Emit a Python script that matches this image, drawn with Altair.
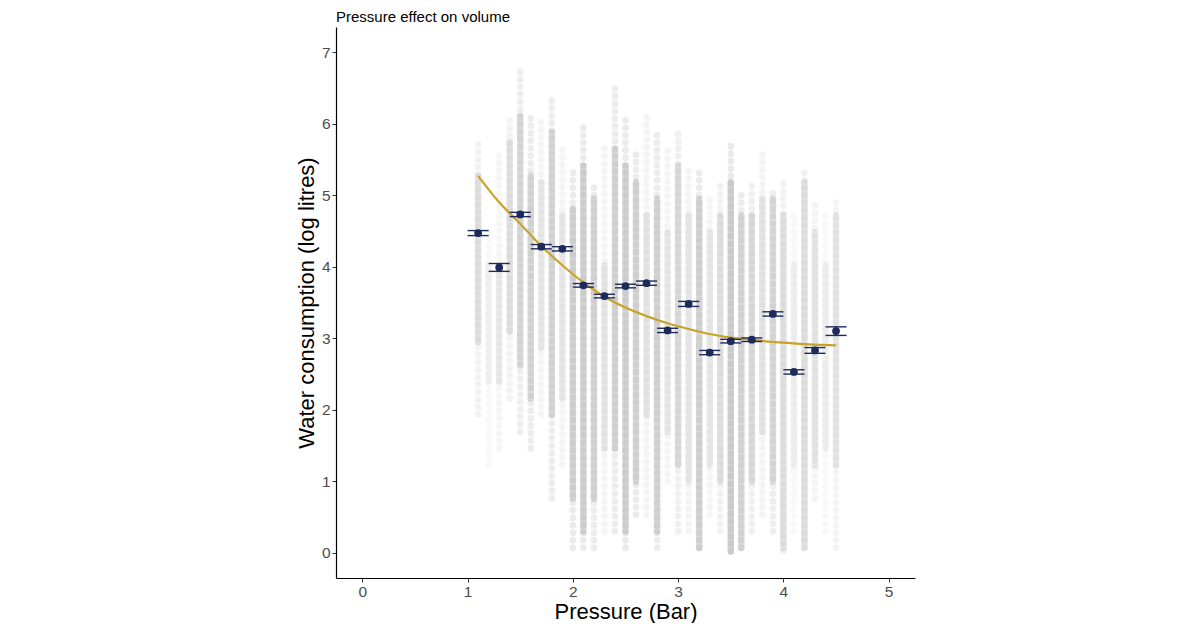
import altair as alt
import pandas as pd

# background cloud: one column of observations per pressure setting
col_x = [1.1, 1.2, 1.3, 1.4, 1.5, 1.6, 1.7, 1.8, 1.9, 2.0,
         2.1, 2.2, 2.3, 2.4, 2.5, 2.6, 2.7, 2.8, 2.9, 3.0,
         3.1, 3.2, 3.3, 3.4, 3.5, 3.6, 3.7, 3.8, 3.9, 4.0,
         4.1, 4.2, 4.3, 4.4, 4.5]
col_top = [5.78, 4.48, 5.65, 6.11, 6.76, 6.11, 6.11, 6.34, 5.65, 5.41,
           5.97, 5.18, 5.65, 6.58, 6.11, 5.65, 6.11, 5.88, 5.65, 5.88,
           5.41, 5.41, 4.95, 5.18, 5.74, 5.09, 5.18, 5.65, 5.09, 5.18,
           4.72, 5.41, 4.95, 4.72, 4.95]
col_bottom = [1.93, 1.23, 1.46, 2.16, 1.69, 1.46, 1.93, 0.76, 1.23, 0.07,
              0.07, 0.07, 0.30, 0.30, 0.07, 0.53, 0.53, 0.07, 1.00, 0.30,
              0.30, 0.07, 0.53, 0.30, 0.02, 0.07, 0.30, 0.53, 0.30, 0.02,
              0.30, 0.07, 0.76, 0.30, 0.07]
core_top = [5.27, 4.02, 4.02, 5.74, 6.11, 5.27, 5.18, 5.88, 4.72, 4.81,
            5.41, 4.95, 4.02, 5.65, 5.41, 5.18, 4.72, 4.95, 4.48, 5.41,
            4.72, 4.95, 4.48, 4.72, 5.18, 4.72, 4.72, 4.95, 4.95, 4.72,
            4.02, 5.18, 4.48, 4.02, 4.72]
core_bottom = [2.95, 2.39, 2.39, 3.09, 2.62, 2.16, 2.86, 1.93, 2.16, 0.76,
               0.30, 0.76, 1.46, 1.46, 0.30, 1.00, 1.93, 0.30, 1.69, 1.23,
               1.00, 0.07, 1.23, 1.00, 0.02, 0.07, 1.00, 1.69, 1.00, 0.07,
               1.23, 0.07, 1.23, 1.46, 1.23]
col_weight = [0.60, 0.25, 0.40, 0.60, 0.75, 0.80, 0.45, 0.80, 0.45, 0.90,
              0.90, 0.85, 0.50, 0.85, 0.90, 0.85, 0.50, 0.85, 0.45, 0.70,
              0.45, 0.85, 0.45, 0.60, 0.95, 0.80, 0.70, 0.50, 0.75, 0.60,
              0.30, 0.60, 0.50, 0.30, 0.50]

# group means with standard errors
mean_x = [1.1, 1.3, 1.5, 1.7, 1.9, 2.1, 2.3, 2.5, 2.7,
          2.9, 3.1, 3.3, 3.5, 3.7, 3.9, 4.1, 4.3, 4.5]
mean_y = [4.47, 3.99, 4.73, 4.28, 4.25, 3.74, 3.59, 3.73, 3.77,
          3.11, 3.48, 2.80, 2.96, 2.98, 3.34, 2.53, 2.83, 3.10]
mean_se = [0.035, 0.055, 0.03, 0.03, 0.03, 0.025, 0.025, 0.025, 0.03,
           0.03, 0.035, 0.03, 0.025, 0.025, 0.03, 0.03, 0.04, 0.06]

# fitted curve
fit_x = [1.1, 1.3, 1.5, 1.7, 1.9, 2.1, 2.3, 2.5, 2.7,
         2.9, 3.1, 3.3, 3.5, 3.7, 3.9, 4.1, 4.3, 4.5]
fit_y = [5.27, 4.90, 4.60, 4.29, 4.02, 3.78, 3.58, 3.43, 3.31,
         3.21, 3.13, 3.06, 3.01, 2.98, 2.95, 2.93, 2.91, 2.90]

x_ticks = [0, 1, 2, 3, 4, 5]
y_ticks = [0, 1, 2, 3, 4, 5, 6, 7]

cloud = pd.DataFrame({
    "x": col_x, "top": col_top, "bottom": col_bottom,
    "ctop": core_top, "cbottom": core_bottom, "w": col_weight,
})
cloud["outer_op"] = cloud["w"] * 0.22
cloud["core_op"] = cloud["w"] * 0.42

means = pd.DataFrame({"x": mean_x, "y": mean_y, "se": mean_se})
means["ymin"] = means["y"] - means["se"]
means["ymax"] = means["y"] + means["se"]
means["xl"] = means["x"] - 0.1
means["xr"] = means["x"] + 0.1

fit = pd.DataFrame({"x": fit_x, "y": fit_y})

xs = alt.Scale(domain=[-0.25, 5.25], nice=False, zero=False)
ys = alt.Scale(domain=[-0.35, 7.35], nice=False, zero=False)
x_axis = alt.Axis(values=x_ticks, format="d", title="Pressure (Bar)", titlePadding=2)
y_axis = alt.Axis(values=y_ticks, format="d", title="Water consumption (log litres)", titlePadding=3)

grey = "#9a9a9a"
navy = "#1f2a5c"

# outer spread drawn as a chain of dots, like stacked translucent points
outer = alt.Chart(cloud).mark_rule(color=grey, strokeWidth=6.5, strokeCap="round",
                                   strokeDash=[0.5, 7]).encode(
    x=alt.X("x:Q", scale=xs, axis=x_axis),
    y=alt.Y("bottom:Q", scale=ys, axis=y_axis),
    y2="top:Q",
    opacity=alt.Opacity("outer_op:Q", scale=None),
)
core = alt.Chart(cloud).mark_rule(color=grey, strokeWidth=6.5, strokeCap="round").encode(
    x=alt.X("x:Q", scale=xs),
    y=alt.Y("cbottom:Q", scale=ys),
    y2="ctop:Q",
    opacity=alt.Opacity("core_op:Q", scale=None),
)

line = alt.Chart(fit).mark_line(color="#c9a227", strokeWidth=2.2, interpolate="monotone").encode(
    x=alt.X("x:Q", scale=xs),
    y=alt.Y("y:Q", scale=ys),
)

err = alt.Chart(means).mark_rule(color=navy, strokeWidth=1.4).encode(
    x=alt.X("x:Q", scale=xs), y=alt.Y("ymin:Q", scale=ys), y2="ymax:Q"
)
cap_lo = alt.Chart(means).mark_rule(color=navy, strokeWidth=1.4).encode(
    x=alt.X("xl:Q", scale=xs), x2="xr:Q", y=alt.Y("ymin:Q", scale=ys)
)
cap_hi = alt.Chart(means).mark_rule(color=navy, strokeWidth=1.4).encode(
    x=alt.X("xl:Q", scale=xs), x2="xr:Q", y=alt.Y("ymax:Q", scale=ys)
)
pts = alt.Chart(means).mark_circle(color=navy, size=60, opacity=1).encode(
    x=alt.X("x:Q", scale=xs), y=alt.Y("y:Q", scale=ys)
)

chart = alt.layer(outer, core, line, err, cap_lo, cap_hi, pts).properties(
    width=579,
    height=551,
    title=alt.Title("Pressure effect on volume", anchor="start", frame="group",
                    fontSize=15, fontWeight="normal", font="Liberation Sans",
                    color="black", offset=2),
    autosize=alt.AutoSizeParams(type="none"),
    padding={"left": 328, "top": 19, "right": 277, "bottom": 45},
).configure_view(stroke=None).configure_axis(
    grid=False,
    domainColor="black",
    domainWidth=1.2,
    tickColor="#333333",
    tickSize=4,
    labelFont="Liberation Sans",
    labelFontSize=15.5,
    labelColor="#4d4d4d",
    labelPadding=2,
    titleFont="Liberation Sans",
    titleFontSize=22,
    titleFontWeight="normal",
    titleColor="black",
)

chart.save("out.html", embed_options={"renderer": "svg", "actions": False})
